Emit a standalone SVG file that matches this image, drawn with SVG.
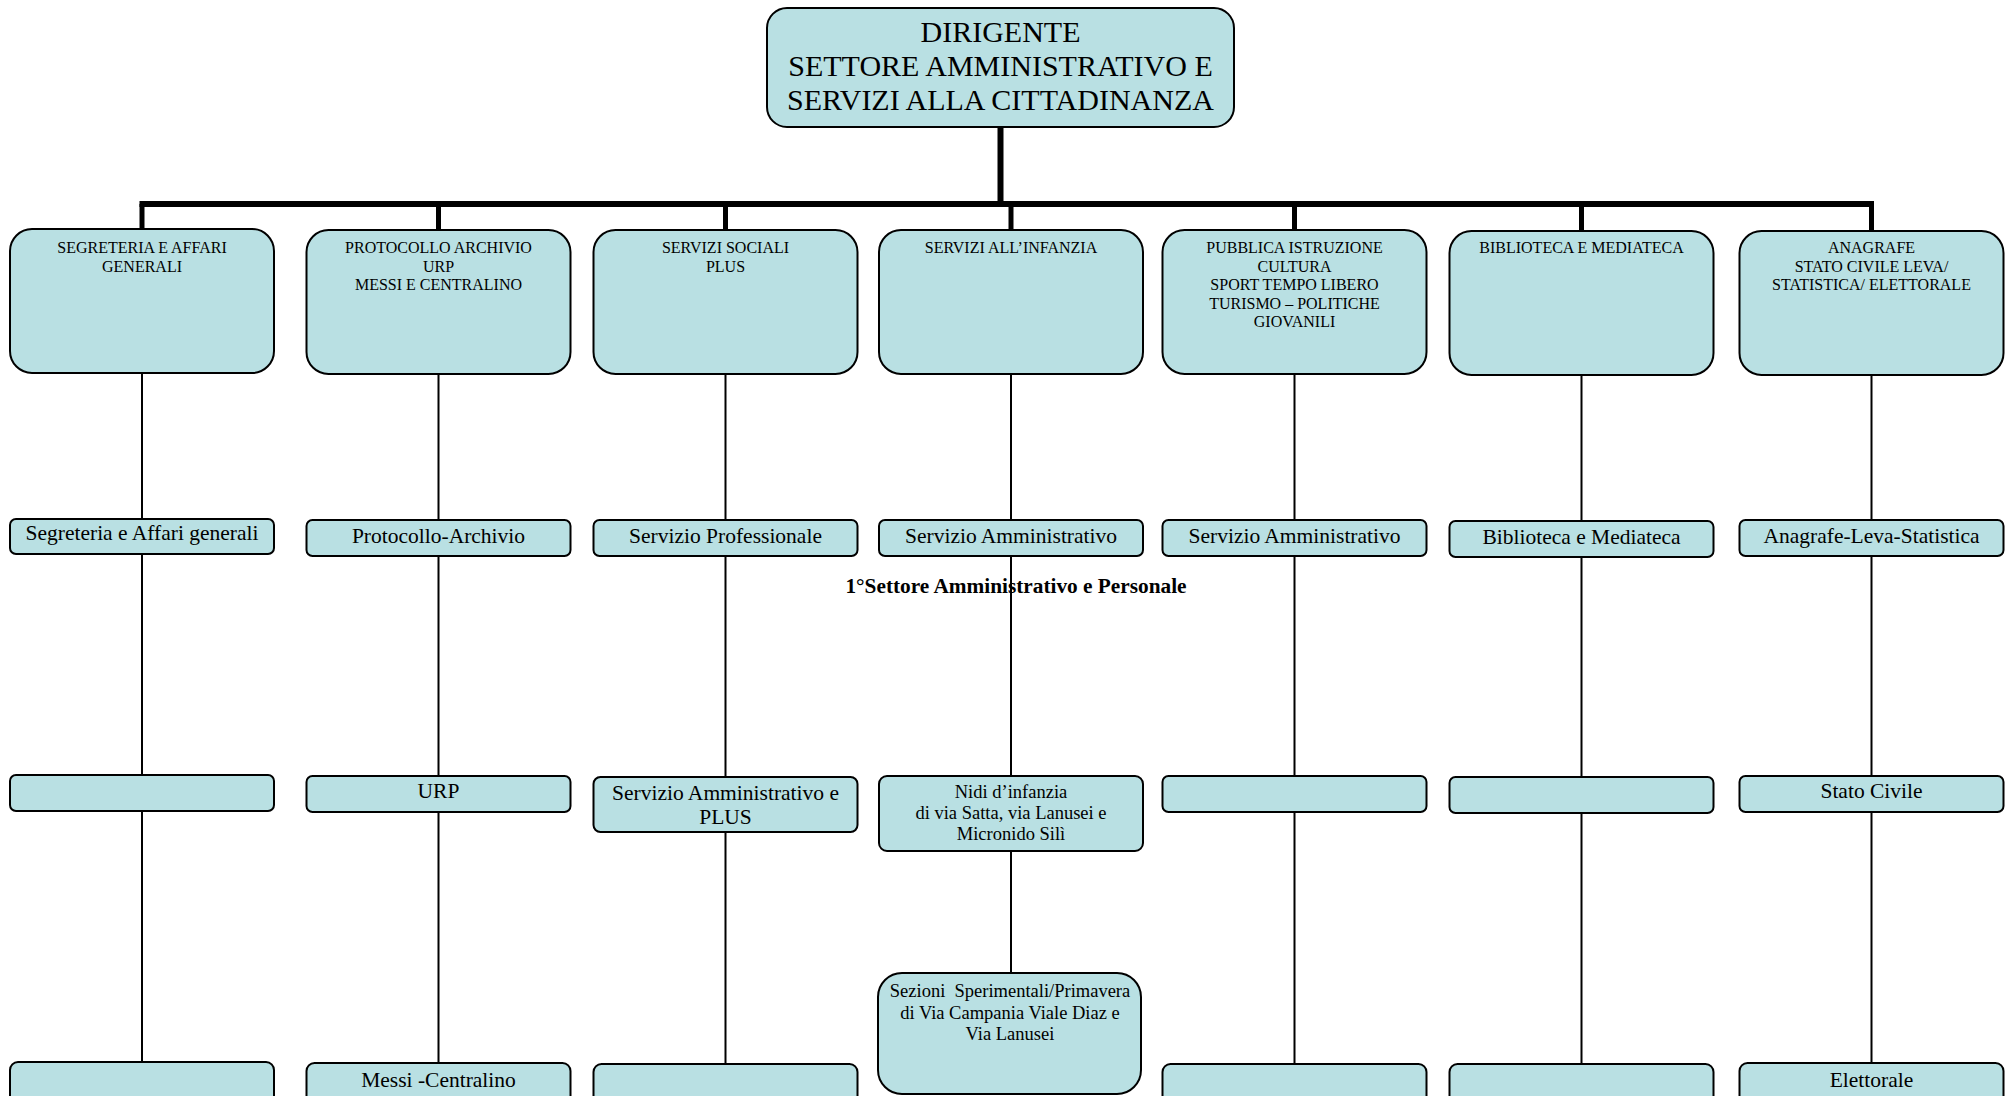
<svg xmlns="http://www.w3.org/2000/svg" width="2011" height="1096" viewBox="0 0 2011 1096">
  <style>
    .box { fill:#b9e0e3; stroke:#000; stroke-width:2; }
    .t { font-family:"Liberation Serif","Times New Roman",serif; fill:#000; text-anchor:middle; }
    .h { font-size:16px; }
    .m { font-size:21.5px; }
    .s { font-size:18.5px; }
    .top { font-size:30px; }
    .b { font-size:21.3px; font-weight:bold; }
    .thin { stroke:#000; stroke-width:2; fill:none; }
    .thick { stroke:#000; stroke-width:5; fill:none; }
    .trunk { stroke:#000; stroke-width:6; fill:none; }
  </style>
  <rect width="2011" height="1096" fill="#fff"/>

  <!-- connectors -->
  <g id="connectors">
    <line class="trunk" x1="1000.5" y1="127" x2="1000.5" y2="204"/>
    <line class="trunk" x1="139.5" y1="204" x2="1874" y2="204"/>
    <line class="thick" x1="142" y1="204" x2="142" y2="229"/>
    <line class="thick" x1="438.5" y1="204" x2="438.5" y2="230"/>
    <line class="thick" x1="725.5" y1="204" x2="725.5" y2="230"/>
    <line class="thick" x1="1011" y1="204" x2="1011" y2="230"/>
    <line class="thick" x1="1294.5" y1="204" x2="1294.5" y2="230"/>
    <line class="thick" x1="1581.5" y1="204" x2="1581.5" y2="231"/>
    <line class="thick" x1="1871.5" y1="204" x2="1871.5" y2="231"/>
    <!-- column stems -->
    <line class="thin" x1="142" y1="373" x2="142" y2="1063"/>
    <line class="thin" x1="438.5" y1="374" x2="438.5" y2="1063"/>
    <line class="thin" x1="725.5" y1="374" x2="725.5" y2="1064"/>
    <line class="thin" x1="1011" y1="374" x2="1011" y2="974"/>
    <line class="thin" x1="1294.5" y1="374" x2="1294.5" y2="1064"/>
    <line class="thin" x1="1581.5" y1="375" x2="1581.5" y2="1064"/>
    <line class="thin" x1="1871.5" y1="375" x2="1871.5" y2="1063"/>
  </g>

  <!-- head of sector -->
  <g id="dirigente">
    <rect class="box" x="767" y="8" width="467" height="119" rx="20"/>
    <text class="t top" x="1000.5" y="42">DIRIGENTE</text>
    <text class="t top" x="1000.5" y="76">SETTORE AMMINISTRATIVO E</text>
    <text class="t top" x="1000.5" y="110">SERVIZI ALLA CITTADINANZA</text>
  </g>

  <!-- column 1 -->
  <g id="segreteria">
    <rect class="box" x="10" y="229" width="264" height="144" rx="22"/>
    <text class="t h" x="142" y="253">SEGRETERIA E AFFARI</text>
    <text class="t h" x="142" y="271.5">GENERALI</text>
  </g>
  <g id="segreteria-ag">
    <rect class="box" x="10" y="519" width="264" height="35" rx="6"/>
    <text class="t m" x="142" y="540">Segreteria e Affari generali</text>
  </g>
  <g id="segreteria-3">
    <rect class="box" x="10" y="775" width="264" height="36" rx="6"/>
  </g>
  <g id="segreteria-4">
    <rect class="box" x="10" y="1062" width="264" height="50" rx="8"/>
  </g>

  <!-- column 2 -->
  <g id="protocollo">
    <rect class="box" x="306.5" y="230" width="264" height="144" rx="22"/>
    <text class="t h" x="438.5" y="253">PROTOCOLLO ARCHIVIO</text>
    <text class="t h" x="438.5" y="271.5">URP</text>
    <text class="t h" x="438.5" y="290">MESSI E CENTRALINO</text>
  </g>
  <g id="protocollo-archivio">
    <rect class="box" x="306.5" y="520" width="264" height="36" rx="6"/>
    <text class="t m" x="438.5" y="542.5">Protocollo-Archivio</text>
  </g>
  <g id="urp">
    <rect class="box" x="306.5" y="776" width="264" height="36" rx="6"/>
    <text class="t m" x="438.5" y="798">URP</text>
  </g>
  <g id="messi-centralino">
    <rect class="box" x="306.5" y="1063" width="264" height="50" rx="8"/>
    <text class="t m" x="438.5" y="1087">Messi -Centralino</text>
  </g>

  <!-- column 3 -->
  <g id="servizi-sociali">
    <rect class="box" x="593.5" y="230" width="264" height="144" rx="22"/>
    <text class="t h" x="725.5" y="253">SERVIZI SOCIALI</text>
    <text class="t h" x="725.5" y="271.5">PLUS</text>
  </g>
  <g id="servizio-professionale">
    <rect class="box" x="593.5" y="520" width="264" height="36" rx="6"/>
    <text class="t m" x="725.5" y="542.5">Servizio Professionale</text>
  </g>
  <g id="servizio-amm-plus">
    <rect class="box" x="593.5" y="777" width="264" height="55" rx="7"/>
    <text class="t m" x="725.5" y="800">Servizio Amministrativo e</text>
    <text class="t m" x="725.5" y="823.5">PLUS</text>
  </g>
  <g id="sociali-4">
    <rect class="box" x="593.5" y="1064" width="264" height="50" rx="8"/>
  </g>

  <!-- column 4 -->
  <g id="infanzia">
    <rect class="box" x="879" y="230" width="264" height="144" rx="22"/>
    <text class="t h" x="1011" y="253">SERVIZI ALL’INFANZIA</text>
  </g>
  <g id="infanzia-amm">
    <rect class="box" x="879" y="520" width="264" height="36" rx="6"/>
    <text class="t m" x="1011" y="542.5">Servizio Amministrativo</text>
  </g>
  <g id="sector-label">
    <text class="t b" x="1016" y="593">1°Settore Amministrativo e Personale</text>
  </g>
  <g id="nidi">
    <rect class="box" x="879" y="776" width="264" height="75" rx="8"/>
    <text class="t s" x="1011" y="798">Nidi d’infanzia</text>
    <text class="t s" x="1011" y="819">di via Satta, via Lanusei e</text>
    <text class="t s" x="1011" y="840">Micronido Silì</text>
  </g>
  <g id="sezioni">
    <rect class="box" x="878" y="973" width="263" height="121" rx="24"/>
    <text class="t s" x="1010" y="997" xml:space="preserve">Sezioni  Sperimentali/Primavera</text>
    <text class="t s" x="1010" y="1018.5">di Via Campania Viale Diaz e</text>
    <text class="t s" x="1010" y="1040">Via Lanusei</text>
  </g>

  <!-- column 5 -->
  <g id="istruzione">
    <rect class="box" x="1162.5" y="230" width="264" height="144" rx="22"/>
    <text class="t h" x="1294.5" y="253">PUBBLICA ISTRUZIONE</text>
    <text class="t h" x="1294.5" y="271.5">CULTURA</text>
    <text class="t h" x="1294.5" y="290">SPORT TEMPO LIBERO</text>
    <text class="t h" x="1294.5" y="308.5">TURISMO – POLITICHE</text>
    <text class="t h" x="1294.5" y="327">GIOVANILI</text>
  </g>
  <g id="istruzione-amm">
    <rect class="box" x="1162.5" y="520" width="264" height="36" rx="6"/>
    <text class="t m" x="1294.5" y="542.5">Servizio Amministrativo</text>
  </g>
  <g id="istruzione-3">
    <rect class="box" x="1162.5" y="776" width="264" height="36" rx="6"/>
  </g>
  <g id="istruzione-4">
    <rect class="box" x="1162.5" y="1064" width="264" height="50" rx="8"/>
  </g>

  <!-- column 6 -->
  <g id="biblioteca">
    <rect class="box" x="1449.5" y="231" width="264" height="144" rx="22"/>
    <text class="t h" x="1581.5" y="253">BIBLIOTECA E MEDIATECA</text>
  </g>
  <g id="biblioteca-mediateca">
    <rect class="box" x="1449.5" y="521" width="264" height="36" rx="6"/>
    <text class="t m" x="1581.5" y="543.5">Biblioteca e Mediateca</text>
  </g>
  <g id="biblioteca-3">
    <rect class="box" x="1449.5" y="777" width="264" height="36" rx="6"/>
  </g>
  <g id="biblioteca-4">
    <rect class="box" x="1449.5" y="1064" width="264" height="50" rx="8"/>
  </g>

  <!-- column 7 -->
  <g id="anagrafe">
    <rect class="box" x="1739.5" y="231" width="264" height="144" rx="22"/>
    <text class="t h" x="1871.5" y="253">ANAGRAFE</text>
    <text class="t h" x="1871.5" y="271.5">STATO CIVILE LEVA/</text>
    <text class="t h" x="1871.5" y="290">STATISTICA/ ELETTORALE</text>
  </g>
  <g id="anagrafe-leva">
    <rect class="box" x="1739.5" y="520" width="264" height="36" rx="6"/>
    <text class="t m" x="1871.5" y="542.5">Anagrafe-Leva-Statistica</text>
  </g>
  <g id="stato-civile">
    <rect class="box" x="1739.5" y="776" width="264" height="36" rx="6"/>
    <text class="t m" x="1871.5" y="798">Stato Civile</text>
  </g>
  <g id="elettorale">
    <rect class="box" x="1739.5" y="1063" width="264" height="50" rx="8"/>
    <text class="t m" x="1871.5" y="1087">Elettorale</text>
  </g>
</svg>
